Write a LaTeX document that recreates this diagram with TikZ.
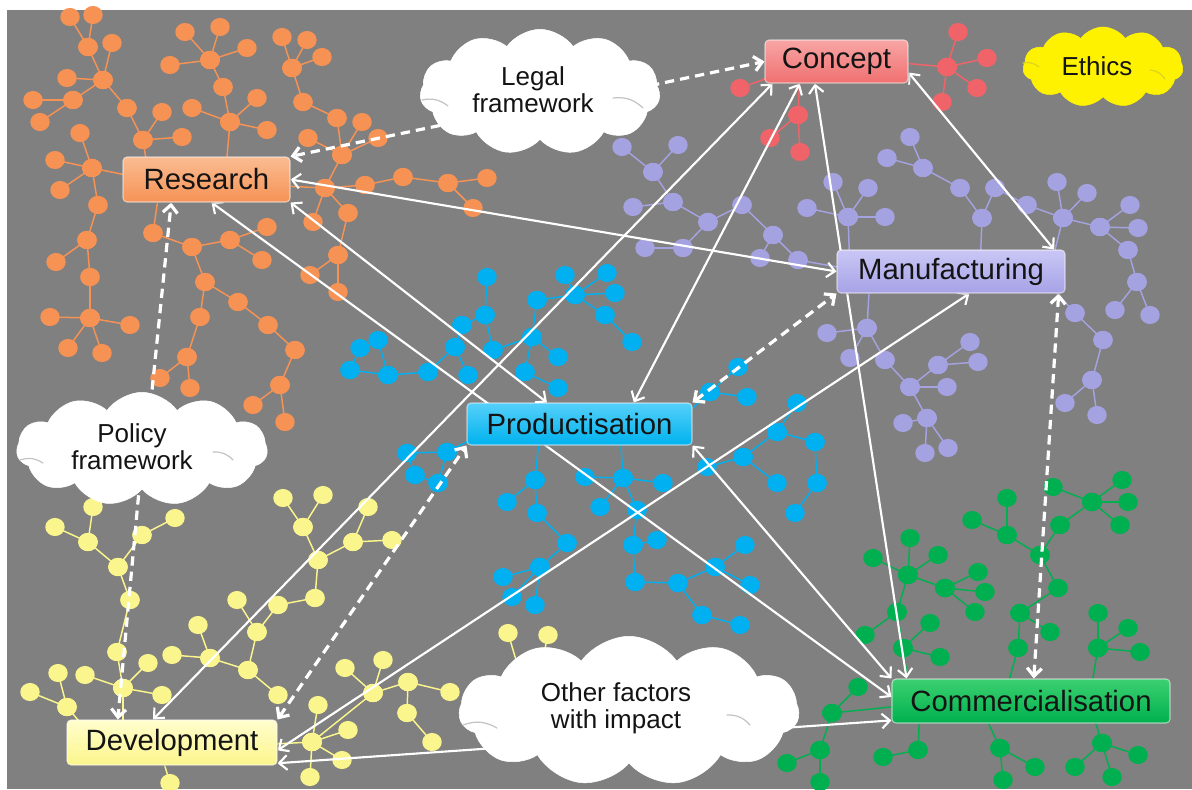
\documentclass[tikz,border=0pt]{standalone}
\usepackage{fontspec}
\setmainfont{Liberation Sans}
\usetikzlibrary{arrows.meta,calc,shapes.symbols,shadows}
\pgfdeclarelayer{bg}
\pgfdeclarelayer{trees}
\pgfdeclarelayer{links}
\pgfsetlayers{bg,trees,links,main}

\definecolor{bggray}{RGB}{128,128,128}
\definecolor{ink}{RGB}{20,20,20}
\definecolor{curl}{RGB}{195,195,195}
\definecolor{orangeT}{RGB}{246,146,84}
\definecolor{redT}{RGB}{240,100,105}
\definecolor{lavT}{RGB}{165,162,225}
\definecolor{cyanT}{RGB}{0,176,240}
\definecolor{yelT}{RGB}{250,245,140}
\definecolor{greenT}{RGB}{0,176,80}
% stage box shading, top and bottom
\definecolor{conTop}{RGB}{248,165,165}\definecolor{conBot}{RGB}{240,112,112}
\definecolor{resTop}{RGB}{250,188,145}\definecolor{resBot}{RGB}{246,146,86}
\definecolor{manTop}{RGB}{202,199,246}\definecolor{manBot}{RGB}{166,162,230}
\definecolor{proTop}{RGB}{85,208,250}\definecolor{proBot}{RGB}{0,178,238}
\definecolor{devTop}{RGB}{255,253,205}\definecolor{devBot}{RGB}{252,246,140}
\definecolor{comTop}{RGB}{60,208,112}\definecolor{comBot}{RGB}{0,176,78}

% a small network: edges first, then the dots at both ends of each edge
\newcommand{\netdraw}[2]{%
  \foreach \xa/\ya/\xb/\yb in {#2} {\draw[#1, line width=1.1pt] (\xa,\ya) -- (\xb,\yb);}
  \foreach \xa/\ya/\xb/\yb in {#2} {%
    \fill[#1] (\xa,\ya) ellipse [x radius=7.3pt, y radius=6.8pt];
    \fill[#1] (\xb,\yb) ellipse [x radius=7.3pt, y radius=6.8pt];}%
}

\tikzset{
  stagebox/.style={rectangle, rounded corners=3pt, inner sep=0pt, text=ink,
    font=\fontsize{22}{24}\selectfont, draw=white, draw opacity=0.55, line width=0.8pt,
    drop shadow={shadow xshift=1.2pt, shadow yshift=-1.2pt, opacity=0.45}},
  factorcloud/.style={cloud, cloud puffs=11, cloud puff arc=110, inner sep=0pt,
    fill=white, draw=white},
  cloudtext/.style={inner sep=0pt, align=center, text=ink,
    font=\fontsize{19.5}{20.5}\selectfont},
  curlline/.style={draw=curl, line width=0.9pt, line cap=round},
  link/.style={draw=white, line width=1.6pt, {Straight Barb[length=6pt,width=11pt]}-{Straight Barb[length=6pt,width=11pt]}},
  dlink/.style={draw=white, line width=2.4pt, dash pattern=on 7pt off 4.5pt},
  onetip/.style={-{Straight Barb[length=6pt,width=11pt]}},
  twotips/.style={{Straight Barb[length=6pt,width=11pt]}-{Straight Barb[length=6pt,width=11pt]}}
}

\begin{document}
\begin{tikzpicture}[x=0.75pt, y=-0.75pt]
\useasboundingbox (0,0) rectangle (1192,789);
\begin{pgfonlayer}{bg}
  \fill[white] (0,0) rectangle (1192,789);
  \fill[bggray] (7,10) rectangle (1192,789);
\end{pgfonlayer}

% ---------------- networks ----------------
\begin{pgfonlayer}{trees}
\netdraw{orangeT}{70/17/88/47, 93/15/88/47, 88/47/103/80, 112/43/103/80, 103/80/67/78, 103/80/73/100, 73/100/33/100, 73/100/40/122, 103/80/127/108, 127/108/143/140, 143/140/162/112, 143/140/182/137, 143/140/150/185,
92/168/80/133, 92/168/55/160, 92/168/60/190, 92/168/98/205, 92/168/150/180, 98/205/87/240, 87/240/56/262, 87/240/90/277, 90/277/90/318, 90/318/50/317, 90/318/130/325, 90/318/68/348, 90/318/102/353,
210/60/185/32, 210/60/220/27, 210/60/170/65, 210/60/247/48, 210/60/223/87, 223/87/230/122, 230/122/192/108, 230/122/257/98, 230/122/267/130, 230/122/225/180,
292/68/282/37, 292/68/307/40, 292/68/322/57, 292/68/303/102, 303/102/337/118, 337/118/342/155, 342/155/308/138, 342/155/362/122, 342/155/378/138, 342/155/325/188, 325/188/365/185, 325/188/313/222, 325/188/348/213, 325/188/260/185, 365/185/403/177, 403/177/448/183, 448/183/487/178, 448/183/473/208, 348/213/338/255, 338/255/310/275, 338/255/338/292,
153/233/160/185, 153/233/192/247, 192/247/230/240, 230/240/267/227, 230/240/262/260, 192/247/205/282, 205/282/238/302, 205/282/200/317, 238/302/268/325, 268/325/295/350, 295/350/280/385, 280/385/253/405, 280/385/285/422, 200/317/187/357, 187/357/160/378, 187/357/190/388}

\netdraw{redT}{947/67/958/32, 947/67/987/58, 947/67/977/88, 947/67/942/102, 947/67/890/62, 740/88/790/70, 798/115/770/138, 798/115/800/152, 798/115/800/70}

\netdraw{lavT}{653/172/622/147, 653/172/678/145, 653/172/673/202, 673/202/633/207, 673/202/708/222, 708/222/683/248, 683/248/645/248, 708/222/742/205, 742/205/773/235, 773/235/760/258, 773/235/798/260, 798/260/860/271,
848/217/833/182, 848/217/868/188, 848/217/807/208, 848/217/885/217, 848/217/850/270, 923/168/887/158, 923/168/910/137, 923/168/960/188, 960/188/982/218, 995/188/982/218, 982/218/980/270, 995/188/1027/205, 1027/205/1063/218, 1063/218/1057/182, 1063/218/1087/193, 1063/218/1100/227, 1063/218/1050/270, 1100/227/1130/205, 1100/227/1138/228, 1100/227/1128/250, 1128/250/1137/282, 1137/282/1115/310, 1137/282/1150/315,
1075/313/1040/275, 1075/313/1103/340, 1103/340/1092/380, 1092/380/1065/403, 1092/380/1097/415,
867/328/870/275, 867/328/827/333, 867/328/850/358, 867/328/885/360, 885/360/910/387, 910/387/947/387, 910/387/938/365, 910/387/927/418, 938/365/970/342, 938/365/978/362, 927/418/903/423, 927/418/925/453, 927/418/948/448}

\netdraw{cyanT}{487/277/485/315, 485/315/462/325, 462/325/455/347, 485/315/493/350, 455/347/428/372, 455/347/468/375, 428/372/388/375, 388/375/378/340, 388/375/350/370, 350/370/360/348,
532/337/537/300, 532/337/493/350, 532/337/558/357, 532/337/525/372, 525/372/558/388, 575/295/537/300, 575/295/565/275, 575/295/607/273, 575/295/615/293, 575/295/605/315, 605/315/632/342,
738/367/710/392, 710/392/747/397, 710/392/680/420, 797/403/777/432, 777/432/815/442, 777/432/743/457, 743/457/707/467, 743/457/777/483, 815/442/817/483, 817/483/795/513,
407/453/447/452, 407/453/415/475, 415/475/438/483, 447/452/438/483, 447/452/490/430,
535/480/540/430, 535/480/507/502, 535/480/537/513, 537/513/567/543, 567/543/540/567, 540/567/503/577, 540/567/512/597, 540/567/535/605,
623/478/620/430, 623/478/585/477, 623/478/663/483, 623/478/600/507, 623/478/637/510, 637/510/633/545, 633/545/657/540, 633/545/635/582, 635/582/678/583, 678/583/715/567, 715/567/745/545, 715/567/750/585, 678/583/702/615, 702/615/740/625}

\netdraw{yelT}{55/527/88/542, 93/507/88/542, 88/542/118/567, 142/535/118/567, 142/535/175/518, 118/567/130/600, 130/600/117/652, 117/652/123/688, 123/688/85/675, 123/688/148/663, 123/688/162/695, 123/688/123/735, 58/673/67/707, 30/692/67/707, 67/707/95/740,
210/658/172/655, 210/658/198/625, 210/658/248/670, 248/670/278/695, 248/670/257/632, 257/632/237/600, 257/632/278/605, 278/605/315/598, 315/598/318/560, 318/560/303/527, 303/527/283/498, 303/527/323/495, 318/560/353/542, 353/542/368/507, 353/542/392/540,
373/693/345/668, 373/693/383/660, 373/693/408/682, 408/682/450/692, 373/693/312/742, 312/742/318/705, 312/742/348/730, 312/742/342/760, 312/742/310/777, 312/742/255/745, 407/713/432/742, 407/713/408/682,
508/633/522/680, 548/635/538/680, 170/783/160/750}

\netdraw{greenT}{1092/502/1053/487, 1092/502/1122/480, 1092/502/1128/502, 1092/502/1060/525, 1060/525/1040/555, 1007/498/1007/535, 972/520/1007/535, 1007/535/1040/555, 1120/525/1092/502,
1040/555/1058/588, 1058/588/1020/613, 1020/613/1018/648, 1020/613/1050/632, 1018/648/1005/695,
908/575/910/538, 908/575/873/558, 908/575/938/555, 908/575/945/588, 908/575/897/612, 945/588/978/572, 945/588/985/592, 945/588/975/612, 897/612/865/635, 897/612/903/648, 903/648/930/623, 903/648/940/657, 903/648/910/695,
1098/648/1098/613, 1098/648/1128/628, 1098/648/1140/652, 1098/648/1090/695,
858/687/832/713, 832/713/820/750, 820/750/820/782, 832/713/910/705, 787/763/820/750,
918/750/883/757, 918/750/920/705, 1000/748/1035/767, 1000/748/1003/780, 1000/748/980/705, 1102/743/1138/755, 1102/743/1075/767, 1102/743/1112/777, 1102/743/1090/705}
\end{pgfonlayer}

% ---------------- stages ----------------
\node[stagebox, top color=conTop, bottom color=conBot,
  minimum width=107.25pt, minimum height=32.25pt] (concept) at (836.5,61.5) {Concept};
\node[stagebox, top color=resTop, bottom color=resBot,
  minimum width=125.25pt, minimum height=33.75pt] (research) at (206.5,179.5) {Research};
\node[stagebox, top color=manTop, bottom color=manBot,
  minimum width=171pt, minimum height=32.25pt] (manufacturing) at (951,271.5) {Manufacturing};
\node[stagebox, top color=proTop, bottom color=proBot,
  minimum width=168.75pt, minimum height=31.5pt] (productisation) at (579.5,424) {Productisation};
\node[stagebox, top color=devTop, bottom color=devBot,
  minimum width=157.5pt, minimum height=33.75pt] (development) at (172,742.5) {Development};
\node[stagebox, top color=comTop, bottom color=comBot,
  minimum width=208.5pt, minimum height=33pt] (commercialisation) at (1031,701) {Commercialisation};

% ---------------- influencing factors ----------------
\node[factorcloud, aspect=1.9, minimum width=180pt, minimum height=94pt] (legal) at (540,92) {};
\node[factorcloud, aspect=2, fill=yellow, draw=yellow, minimum width=120pt, minimum height=60pt] (ethics) at (1103,67) {};
\node[factorcloud, aspect=2.2, minimum width=188pt, minimum height=85pt] (policy) at (142,449) {};
\node[factorcloud, aspect=2.27, minimum width=255pt, minimum height=112pt] (other) at (629,711) {};

% inner folds of the clouds
\draw[curlline] ($(legal.center)+(-118,8)$) to[bend left=25] ($(legal.center)+(-92,14)$);
\draw[curlline] ($(legal.center)+(73,6)$) to[bend left=25] ($(legal.center)+(103,16)$);
\draw[curlline] ($(policy.center)+(-122,11)$) to[bend left=25] ($(policy.center)+(-99,14)$);
\draw[curlline] ($(policy.center)+(71,3)$) to[bend left=25] ($(policy.center)+(91,11)$);
\draw[curlline] ($(other.center)+(-166,14)$) to[bend left=25] ($(other.center)+(-132,17)$);
\draw[curlline] ($(other.center)+(98,4)$) to[bend left=25] ($(other.center)+(121,14)$);
\draw[curlline, draw=yellow!85!black] ($(ethics.center)+(-80,-4)$) to[bend left=25] ($(ethics.center)+(-64,0)$);
\draw[curlline, draw=yellow!85!black] ($(ethics.center)+(47,3)$) to[bend left=25] ($(ethics.center)+(62,12)$);

\node[cloudtext] (legaltext) at (533,90) {Legal\\framework};
\node[cloudtext] (ethicstext) at (1097,66) {Ethics};
\node[cloudtext] (policytext) at (132,447) {Policy\\framework};
\node[cloudtext] (othertext) at (616,708) {Other factors\\with impact};

% ---------------- links ----------------
\begin{pgfonlayer}{links}
% dashed influences
\draw[dlink, onetip] ($(legal.center)+(80,0)$) -- (concept.west);
\draw[dlink, onetip] ($(legal.center)+(-40,21)$) -- (research.north east);
\draw[dlink, onetip] ($(policy.center)+(7,-29)$) -- ($(research.south west)!0.29!(research.south east)$);
\draw[dlink, onetip] ($(policy.center)+(-2,31)$) -- ($(development.north west)!0.243!(development.north east)$);
\draw[dlink, twotips] (development.north east) -- (productisation.south west);
\draw[dlink, twotips] (productisation.north east) -- (manufacturing.south west);
\draw[dlink, twotips] ($(manufacturing.south west)!0.97!(manufacturing.south east)$) -- ($(commercialisation.north west)!0.51!(commercialisation.north east)$);
% solid two-way links
\draw[link] ($(concept.north east)!0.75!(concept.south east)$) -- ($(manufacturing.north west)!0.95!(manufacturing.north east)$);
\draw[link] ($(concept.south west)!0.35!(concept.south east)$) -- ($(commercialisation.north west)!0.054!(commercialisation.north east)$);
\draw[link] ($(concept.south west)!0.245!(concept.south east)$) -- ($(productisation.north west)!0.74!(productisation.north east)$);
\draw[link] ($(concept.south west)!0.056!(concept.south east)$) -- ($(development.north west)!0.41!(development.north east)$);
\draw[link] (research.east) -- (manufacturing.west);
\draw[link] (research.south east) -- ($(productisation.north west)!0.356!(productisation.north east)$);
\draw[link] ($(research.south west)!0.53!(research.south east)$) -- ($(commercialisation.north west)!0.41!(commercialisation.south west)$);
\draw[link] (productisation.south east) -- (commercialisation.north west);
\draw[link] ($(manufacturing.south west)!0.58!(manufacturing.south east)$) -- ($(development.north east)!0.67!(development.south east)$);
\draw[link] ($(development.north east)!0.95!(development.south east)$) -- ($(commercialisation.north west)!0.93!(commercialisation.south west)$);
\end{pgfonlayer}
\end{tikzpicture}
\end{document}
